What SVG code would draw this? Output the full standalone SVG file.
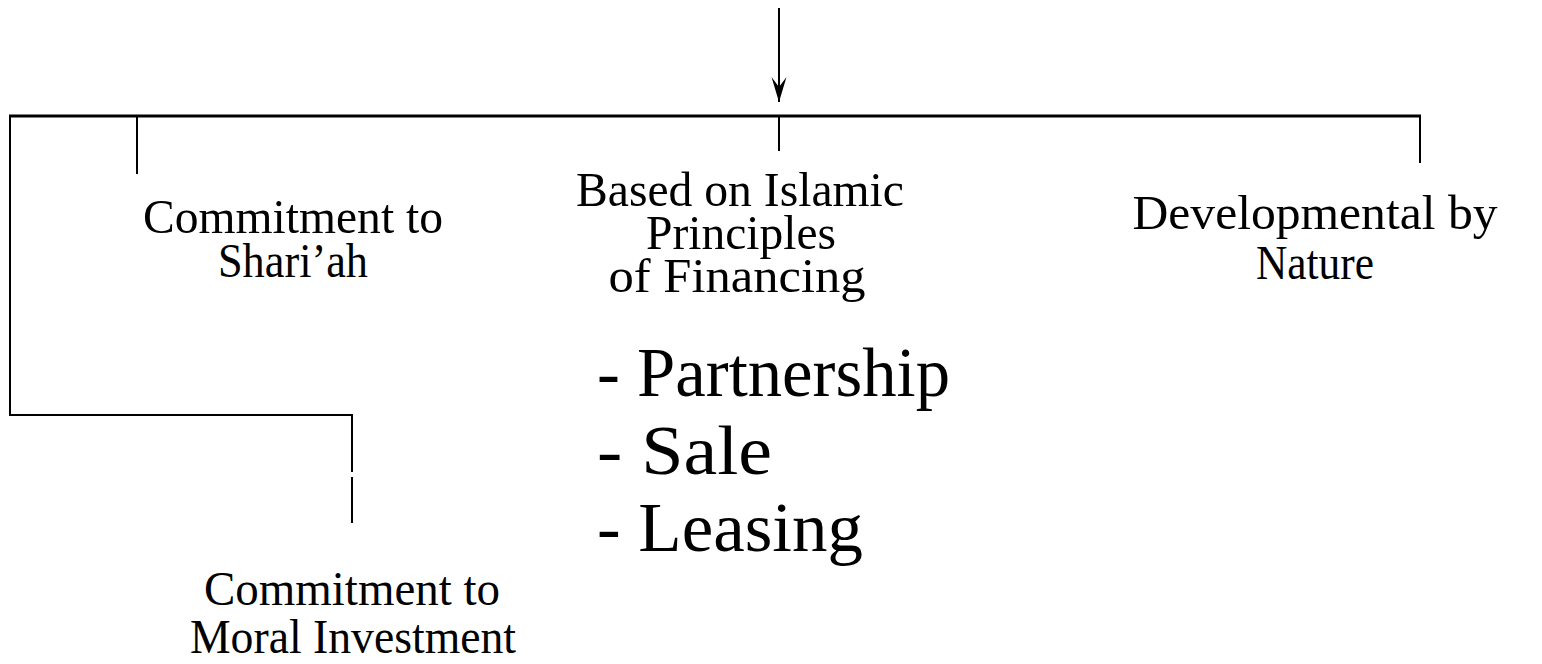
<svg xmlns="http://www.w3.org/2000/svg" width="1542" height="664" viewBox="0 0 1542 664">
<style>
.ln{stroke:#000;stroke-width:2;fill:none}
.thick{stroke-width:3}
.t{font-family:"Liberation Serif","Times New Roman",serif;fill:#000;text-anchor:middle}
.m{font-size:49px}
.b{font-size:70px;text-anchor:start}
</style>
<defs>
<marker id="ah" markerWidth="28" markerHeight="16" refX="25" refY="7.5" orient="auto" markerUnits="userSpaceOnUse">
<path d="M0,0 L25,7.5 L0,15 L10,7.5 Z" fill="#000"/>
</marker>
</defs>
<rect width="1542" height="664" fill="#fff"/>
<g id="connectors">
<line class="ln" x1="779" y1="8" x2="779" y2="102" marker-end="url(#ah)"/>
<line class="ln thick" x1="9" y1="116" x2="1421" y2="116"/>
<line class="ln" x1="137" y1="116" x2="137" y2="174"/>
<line class="ln" x1="779" y1="116" x2="779" y2="151"/>
<line class="ln" x1="1420" y1="116" x2="1420" y2="163"/>
<polyline class="ln" points="10,116 10,415 352,415 352,472"/>
<line class="ln" x1="352" y1="477" x2="352" y2="523"/>
</g>
<g id="node-shariah">
<text class="t m" x="293" y="233" textLength="300" lengthAdjust="spacingAndGlyphs">Commitment to</text>
<text class="t m" x="293" y="277" textLength="150" lengthAdjust="spacingAndGlyphs">Shari’ah</text>
</g>
<g id="node-principles">
<text class="t m" x="740" y="206" textLength="328" lengthAdjust="spacingAndGlyphs">Based on Islamic</text>
<text class="t m" x="741" y="249" textLength="190" lengthAdjust="spacingAndGlyphs">Principles</text>
<text class="t m" x="737" y="292" textLength="257" lengthAdjust="spacingAndGlyphs">of Financing</text>
</g>
<g id="node-developmental">
<text class="t m" x="1315" y="229" textLength="365" lengthAdjust="spacingAndGlyphs">Developmental by</text>
<text class="t m" x="1315" y="279" textLength="118" lengthAdjust="spacingAndGlyphs">Nature</text>
</g>
<g id="node-list">
<text class="t b" x="597" y="396" textLength="353" lengthAdjust="spacingAndGlyphs">- Partnership</text>
<text class="t b" x="597" y="474" textLength="175" lengthAdjust="spacingAndGlyphs">- Sale</text>
<text class="t b" x="597" y="551" textLength="266" lengthAdjust="spacingAndGlyphs">- Leasing</text>
</g>
<g id="node-moral">
<text class="t m" x="352" y="605" textLength="296" lengthAdjust="spacingAndGlyphs">Commitment to</text>
<text class="t m" x="353" y="653" textLength="326" lengthAdjust="spacingAndGlyphs">Moral Investment</text>
</g>
</svg>
